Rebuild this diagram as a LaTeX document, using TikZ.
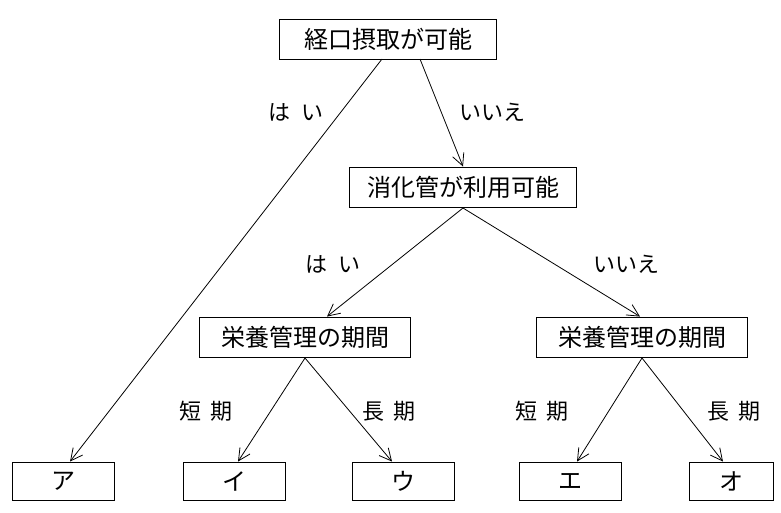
\documentclass[tikz,border=0pt]{standalone}
\usepackage{fontspec}
\setmainfont{Noto Sans CJK JP}
\usetikzlibrary{arrows.meta}
\begin{document}
\begin{tikzpicture}[x=1pt,y=-1pt,
  box/.style={draw,line width=0.9pt,minimum height=40pt,inner sep=0pt,font=\fontsize{24}{26}\selectfont},
  lab/.style={font=\fontsize{22}{24}\selectfont},
  arr/.style={line width=0.8pt,-{Straight Barb[length=12pt,width=12pt]}}]
\useasboundingbox (0,0) rectangle (781,512);
\node[box,minimum width=217pt] (a) at (388,39) {経口摂取が可能};
\node[box,minimum width=227pt] (b) at (463,187) {消化管が利用可能};
\node[box,minimum width=211pt] (c) at (305,337) {栄養管理の期間};
\node[box,minimum width=211pt] (d) at (642,337) {栄養管理の期間};
\node[box,minimum width=102pt,minimum height=38pt] (e1) at (63,481) {ア};
\node[box,minimum width=102pt,minimum height=38pt] (e2) at (234,481) {イ};
\node[box,minimum width=102pt,minimum height=38pt] (e3) at (403,481) {ウ};
\node[box,minimum width=102pt,minimum height=38pt] (e4) at (570,481) {エ};
\node[box,minimum width=84pt,minimum height=38pt] (e5) at (731,481) {オ};
\coordinate (a1) at (382,59); \coordinate (a2) at (420,59);
\coordinate (b1) at (463,208);
\coordinate (c1) at (305,358); \coordinate (d1) at (642,358);
\draw[arr] (a1) -- (e1.north -| 70,0);
\draw[arr] (a2) -- (b.north);
\draw[arr] (b1) -- (c.north -| 327,0);
\draw[arr] (b1) -- (d.north -| 640,0);
\draw[arr] (c1) -- (e2.north -| 238,0);
\draw[arr] (c1) -- (e3.north -| 392,0);
\draw[arr] (d1) -- (e4.north -| 577,0);
\draw[arr] (d1) -- (e5.north -| 723,0);
\node[lab] (l1) at (296,112) {は\hspace{0.5em}い};
\node[lab] (l2) at (492,112) {いいえ};
\node[lab] (l3) at (333,264) {は\hspace{0.5em}い};
\node[lab] (l4) at (626,264) {いいえ};
\node[lab] (l5) at (206,411) {短\hspace{0.4em}期};
\node[lab] (l6) at (389,411) {長\hspace{0.4em}期};
\node[lab] (l7) at (542,411) {短\hspace{0.4em}期};
\node[lab] (l8) at (734,411) {長\hspace{0.4em}期};
\end{tikzpicture}
\end{document}
